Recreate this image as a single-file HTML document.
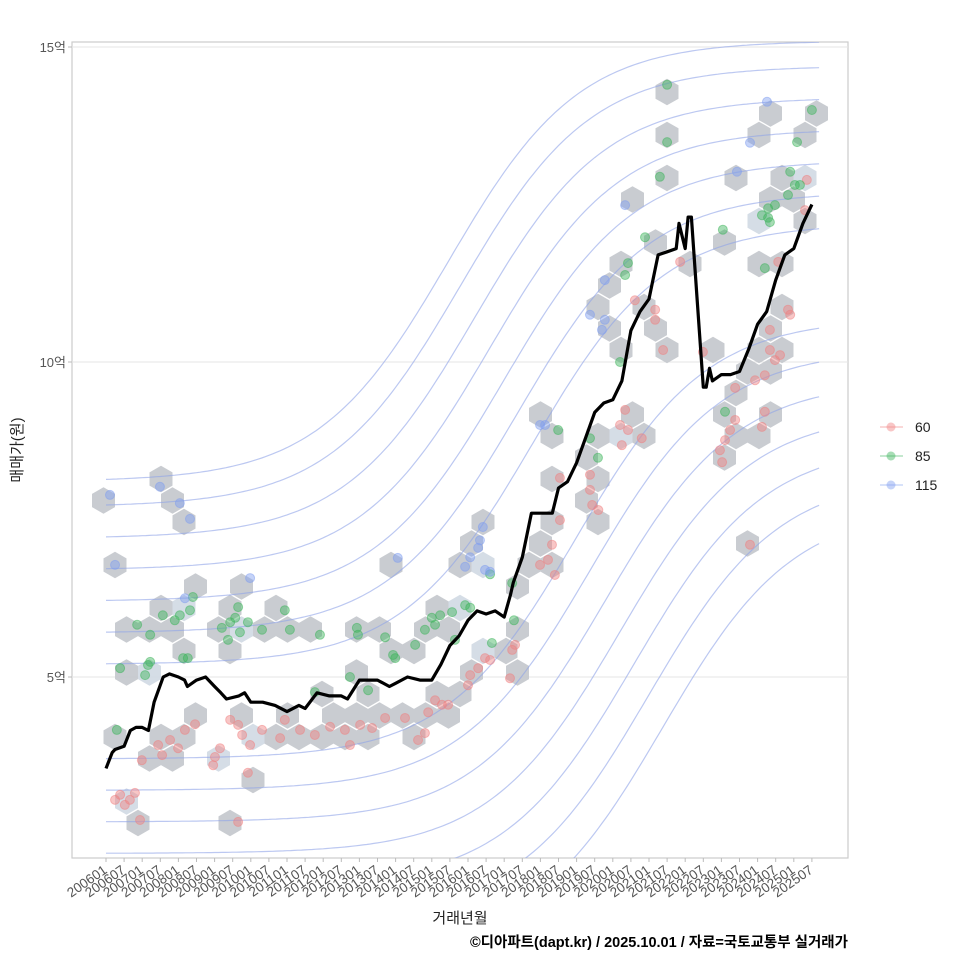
<!DOCTYPE html>
<html><head><meta charset="utf-8"><style>
body{margin:0;background:#fff;font-family:"Liberation Sans","Noto Sans CJK KR",sans-serif}
svg text{font-family:"Liberation Sans","Noto Sans CJK KR",sans-serif}
</style></head><body>
<svg id="c" width="960" height="960" xmlns="http://www.w3.org/2000/svg"></svg>
<script>
const yTicks=[5,10,15];
const yTickLabels=["5억","10억","15억"];
const lineT=[2006.0,2006.17,2006.25,2006.5,2006.67,2006.83,2007.0,2007.17,2007.33,2007.58,2007.75,2008.0,2008.17,2008.25,2008.5,2008.75,2009.0,2009.17,2009.33,2009.67,2009.83,2010.0,2010.33,2010.67,2011.0,2011.33,2011.5,2011.83,2012.17,2012.5,2012.67,2013.0,2013.5,2013.83,2014.0,2014.33,2014.67,2015.0,2015.25,2015.5,2015.75,2016.0,2016.25,2016.5,2016.75,2017.0,2017.17,2017.25,2017.5,2017.75,2018.25,2018.33,2018.5,2018.75,2019.0,2019.25,2019.5,2019.75,2020.0,2020.25,2020.5,2020.75,2021.0,2021.25,2021.5,2021.75,2021.83,2022.0,2022.08,2022.17,2022.33,2022.5,2022.58,2022.67,2022.75,2023.0,2023.25,2023.5,2023.75,2024.0,2024.25,2024.5,2024.75,2025.0,2025.25,2025.5];
const lineV=[3.55,3.8,3.85,3.9,4.15,4.2,4.2,4.15,4.6,5.0,5.05,5.0,4.95,4.85,4.95,5.0,4.85,4.75,4.65,4.7,4.75,4.6,4.6,4.55,4.45,4.55,4.5,4.75,4.7,4.7,4.65,4.95,4.95,4.85,4.9,5.0,4.95,4.95,5.2,5.5,5.65,5.9,6.05,6.0,6.05,5.95,6.3,6.5,6.9,7.6,7.6,7.6,8.0,8.1,8.4,8.8,9.2,9.35,9.4,9.7,10.5,10.8,11.0,11.7,11.75,11.8,12.2,11.8,12.3,12.3,11.0,9.6,9.6,9.9,9.7,9.8,9.8,9.85,10.2,10.6,10.8,11.3,11.7,11.8,12.2,12.5];
const p60=[[2006.39,3.13],[2006.52,2.97],[2006.66,3.05],[2006.8,3.16],[2006.94,2.73],[2006.25,3.05],[2006.99,3.68],[2007.44,3.92],[2007.55,3.76],[2007.77,4.0],[2007.99,3.87],[2008.18,4.16],[2008.46,4.25],[2008.96,3.6],[2009.01,3.73],[2009.15,3.87],[2009.43,4.32],[2009.65,4.24],[2009.76,4.08],[2009.98,3.92],[2009.92,3.48],[2009.65,2.7],[2010.31,4.16],[2010.81,4.03],[2010.94,4.32],[2011.36,4.16],[2011.77,4.08],[2012.19,4.21],[2012.6,4.16],[2012.74,3.92],[2013.02,4.24],[2013.35,4.19],[2013.71,4.35],[2014.26,4.35],[2014.62,4.0],[2014.81,4.11],[2014.9,4.44],[2015.09,4.63],[2015.28,4.56],[2015.45,4.56],[2016.0,4.87],[2016.06,5.03],[2016.28,5.14],[2016.47,5.3],[2016.61,5.27],[2017.16,4.98],[2017.22,5.43],[2017.3,5.51],[2017.99,6.78],[2018.21,6.86],[2018.32,7.1],[2018.4,6.62],[2018.54,7.49],[2018.54,8.16],[2019.37,7.97],[2019.43,7.73],[2019.6,7.65],[2019.37,8.21],[2020.34,9.24],[2020.2,9.0],[2020.25,8.68],[2020.42,8.92],[2020.8,8.79],[2020.61,10.98],[2021.17,10.83],[2021.17,10.67],[2021.39,10.19],[2021.86,11.59],[2022.49,10.16],[2022.96,8.6],[2023.1,8.76],[2023.24,8.92],[2023.38,9.08],[2023.02,8.41],[2023.38,9.59],[2023.79,7.1],[2023.93,9.71],[2024.12,8.97],[2024.2,9.21],[2024.2,9.79],[2024.34,10.19],[2024.48,10.03],[2024.34,10.51],[2024.62,10.11],[2024.84,10.83],[2024.9,10.75],[2025.36,12.89],[2025.31,12.41],[2024.57,11.59]];
const p85=[[2006.3,4.16],[2006.39,5.14],[2006.86,5.83],[2007.08,5.03],[2007.16,5.19],[2007.22,5.24],[2007.22,5.67],[2007.57,5.98],[2007.9,5.9],[2008.04,5.98],[2008.32,6.06],[2008.4,6.27],[2008.13,5.3],[2008.26,5.3],[2009.2,5.78],[2009.43,5.87],[2009.57,5.94],[2009.7,5.71],[2009.37,5.59],[2009.65,6.11],[2009.92,5.87],[2010.31,5.75],[2010.94,6.06],[2011.08,5.75],[2011.91,5.67],[2011.77,4.76],[2012.74,5.0],[2012.93,5.78],[2012.96,5.67],[2013.24,4.79],[2013.71,5.63],[2013.93,5.35],[2013.99,5.3],[2014.54,5.51],[2014.81,5.75],[2015.0,5.94],[2015.09,5.83],[2015.23,5.98],[2015.56,6.03],[2015.64,5.59],[2015.92,6.14],[2016.06,6.1],[2016.61,6.63],[2016.66,5.54],[2017.22,6.49],[2017.27,5.9],[2018.49,8.92],[2019.37,8.79],[2019.59,8.48],[2020.2,10.0],[2020.34,11.38],[2020.42,11.57],[2020.89,11.98],[2021.3,12.94],[2021.5,13.49],[2021.5,14.4],[2023.04,12.1],[2023.1,9.21],[2024.2,11.49],[2024.12,12.33],[2024.29,12.29],[2024.34,12.22],[2024.29,12.44],[2024.48,12.49],[2024.84,12.65],[2024.9,13.02],[2025.03,12.81],[2025.17,12.81],[2025.09,13.49],[2025.5,14.0]];
const p115=[[2006.25,6.78],[2006.11,7.89],[2007.49,8.02],[2008.04,7.76],[2008.32,7.51],[2008.18,6.25],[2009.98,6.57],[2014.06,6.89],[2015.92,6.75],[2016.06,6.9],[2016.28,7.05],[2016.33,7.17],[2016.47,6.7],[2016.41,7.38],[2016.61,6.67],[2017.99,9.0],[2018.13,9.0],[2019.37,10.75],[2019.7,10.51],[2019.78,10.67],[2020.34,12.49],[2019.78,11.3],[2023.43,13.02],[2023.79,13.48],[2024.26,14.13]];
const contourOffsets=[-3.6,-3.1,-2.6,-2.1,-1.6,-1.1,-0.6,0.9,1.4,1.9,2.4,2.9,3.4,3.8];
const xLabels=[];for(let y=2006;y<=2025;y++){xLabels.push(y+"01");xLabels.push(y+"07");}

const NS="http://www.w3.org/2000/svg",svg=document.getElementById('c');
const L=72,R=848,T=42,B=858;
const X=t=>106+(t-2006)*36.2;
const Y=v=>677-(v-5)*63;
function mk(tag,attrs,parent){const e=document.createElementNS(NS,tag);for(const k in attrs)e.setAttribute(k,attrs[k]);(parent||svg).appendChild(e);return e;}
const defs=mk('defs',{});const cp=mk('clipPath',{id:'clip'},defs);mk('rect',{x:L,y:T,width:R-L,height:B-T},cp);
const bg=mk('rect',{x:L,y:T,width:R-L,height:B-T,fill:'#fff',stroke:'#cccccc','stroke-width':1.2});

yTicks.forEach((v,i)=>{
 const g=mk('line',{x1:L,x2:R,y1:Y(v),y2:Y(v),stroke:'#e6e6e6','stroke-width':1});
 
 mk('line',{x1:L-4,x2:L,y1:Y(v),y2:Y(v),stroke:'#bbb'});
 const t=mk('text',{x:L-6,y:Y(v)+5,'text-anchor':'end','font-size':13,fill:'#555'});t.textContent=yTickLabels[i];
 
});
xLabels.forEach((s,i)=>{
 const t=2006+i*0.5,x=X(t);
 mk('line',{x1:x,x2:x,y1:B,y2:B+4,stroke:'#bbb'});
 const tx=mk('text',{x:x+2,y:B+14,'text-anchor':'end','font-size':13.5,fill:'#555',transform:`rotate(-35 ${x+2} ${B+14})`});tx.textContent=s;
 
});
const plot=mk('g',{'clip-path':'url(#clip)'});

const all=p60.concat(p85,p115);const bins={};
all.forEach(p=>{const px=X(p[0]),py=Y(p[1]);let best=null,bd=1e9;
 const r0=Math.round((823-py)/21.5);
 for(let r=r0-1;r<=r0+1;r++){const off=(r%2+2)%2?11.5:0;const i=Math.round((px-115-off)/23);
  const cx=115+23*i+off,cy=823-21.5*r;const d=(cx-px)**2+(cy-py)**2;if(d<bd){bd=d;best=[cx,cy,r+'_'+i];}}
 bins[best[2]]=(bins[best[2]]||0)+1;bins[best[2]+'c']=best;});
Object.keys(bins).filter(k=>!k.endsWith('c')).forEach(k=>{const [cx,cy]=bins[k+'c'];const n=bins[k];const r=13.3;let d='';
 for(let a=0;a<6;a++){const ang=Math.PI/180*(60*a-90);d+=(a?'L':'M')+(cx+r*Math.cos(ang)).toFixed(1)+','+(cy+r*Math.sin(ang)).toFixed(1);}
 const h=mk('path',{d:d+'Z',fill:n>2?'#d0d9e3':'#c3c7cc','fill-opacity':0.9},plot);
 });
const base=(t,k)=>4.3+7/(1+Math.exp(-(t-(2018.5-k*0.8))/1.8));
contourOffsets.forEach(k=>{let d='';for(let t=2006;t<=2025.72;t+=0.1){d+=(d?'L':'M')+X(t).toFixed(1)+','+Y(base(t,k)+k).toFixed(1);}
 const c=mk('path',{d,fill:'none',stroke:'#8fa3e8','stroke-opacity':0.6,'stroke-width':1.2},plot);
 });
[[p60,'#f08080'],[p85,'#3cb35a'],[p115,'#7f9ef0']].forEach(([arr,col])=>arr.forEach(p=>{
 const c=mk('circle',{cx:X(p[0]),cy:Y(p[1]),r:4.5,fill:col,'fill-opacity':0.45,stroke:col,'stroke-opacity':0.5},plot);
 }));
let ld='';lineT.forEach((t,i)=>{ld+=(i?'L':'M')+X(t).toFixed(1)+','+Y(lineV[i]).toFixed(1);});
const ln=mk('path',{d:ld,fill:'none',stroke:'#000','stroke-width':3.2,'stroke-linejoin':'round'},plot);

[['60','#f08080',427],['85','#3cb35a',456],['115','#7f9ef0',485]].forEach(([s,c,y])=>{
 const g=mk('g',{});
 mk('line',{x1:880,x2:903,y1:y,y2:y,stroke:c,'stroke-opacity':0.4,'stroke-width':1.5},g);
 mk('circle',{cx:891,cy:y,r:4.5,fill:c,'fill-opacity':0.45},g);
 const t=mk('text',{x:915,y:y+5,'font-size':14,fill:'#222'},g);t.textContent=s;});
const yt=mk('text',{x:22,y:450,'text-anchor':'middle','font-size':15,fill:'#222',transform:'rotate(-90 22 450)'});yt.textContent='매매가(원)';

const xt=mk('text',{x:460,y:923,'text-anchor':'middle','font-size':15,fill:'#222'});xt.textContent='거래년월';

const cap=mk('text',{x:848,y:947,'text-anchor':'end','font-size':14.5,'font-weight':'bold',fill:'#000'});cap.textContent='©디아파트(dapt.kr) / 2025.10.01 / 자료=국토교통부 실거래가';

</script>
</body></html>
